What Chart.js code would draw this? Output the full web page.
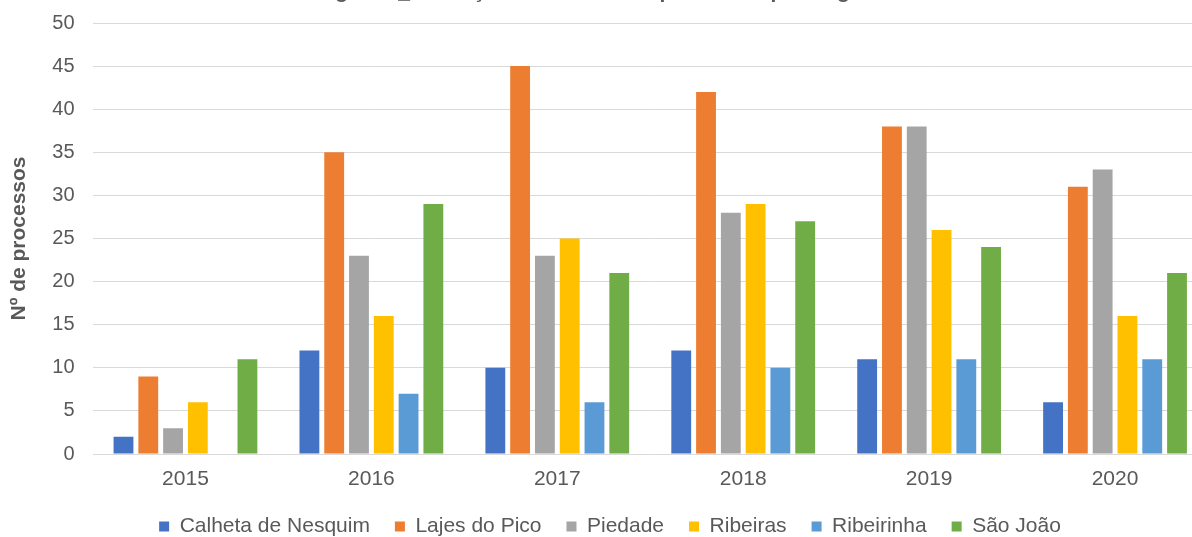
<!DOCTYPE html>
<html>
<head>
<meta charset="utf-8">
<script src="https://cdn.jsdelivr.net/npm/chart.js@4/dist/chart.umd.min.js"></script>
<style>
  html, body { margin: 0; padding: 0; background: #ffffff; overflow: hidden; }
  #wrap { width: 1192px; height: 537px; overflow: hidden; }
  canvas { display: block; }
</style>
</head>
<body>
<div id="wrap"><canvas id="chart" width="1220" height="537"></canvas></div>
<script>
// Número de processos por freguesia, 2015–2020
const years = ['2015', '2016', '2017', '2018', '2019', '2020'];
const calhetaDeNesquim = [2, 12, 10, 12, 11, 6];
const lajesDoPico      = [9, 35, 45, 42, 38, 31];
const piedade          = [3, 23, 23, 28, 38, 33];
const ribeiras         = [6, 16, 25, 29, 26, 16];
const ribeirinha       = [null, 7, 6, 10, 11, 11];
const saoJoao          = [11, 29, 21, 27, 24, 21];

const series = [
  { label: 'Calheta de Nesquim', data: calhetaDeNesquim, color: '#4472C4' },
  { label: 'Lajes do Pico',      data: lajesDoPico,      color: '#ED7D31' },
  { label: 'Piedade',            data: piedade,          color: '#A5A5A5' },
  { label: 'Ribeiras',           data: ribeiras,         color: '#FFC000' },
  { label: 'Ribeirinha',         data: ribeirinha,       color: '#5B9BD5' },
  { label: 'São João',           data: saoJoao,          color: '#70AD47' }
];

const FONT = "'Liberation Sans', Arial, sans-serif";
const TEXT = '#595959';

new Chart(document.getElementById('chart'), {
  type: 'bar',
  data: {
    labels: years,
    datasets: series.map(s => ({
      label: s.label,
      data: s.data,
      backgroundColor: s.color,
      borderWidth: 0,
      categoryPercentage: 0.8,
      barPercentage: 0.8
    }))
  },
  options: {
    responsive: false,
    animation: false,
    devicePixelRatio: 1,
    layout: { padding: { left: 12, right: 12, top: 0, bottom: -10 } },
    plugins: {
      title: {
        display: true,
        text: 'Figura 6_ Evolução do número de processos por freguesia',
        color: TEXT,
        font: { family: FONT, size: 21, weight: 'bold' },
        padding: { top: -20.5, bottom: 18.3 }
      },
      legend: {
        position: 'bottom',
        labels: {
          color: TEXT,
          font: { family: FONT, size: 21 },
          boxWidth: 10,
          boxHeight: 10,
          padding: 25
        }
      },
      tooltip: { enabled: false }
    },
    scales: {
      x: {
        grid: { display: false, drawTicks: false },
        border: { display: false },
        ticks: { color: TEXT, font: { family: FONT, size: 21 }, padding: 13 },
        afterFit: (scale) => { scale.height = 37; }
      },
      y: {
        min: 0,
        max: 50,
        ticks: { stepSize: 5, color: TEXT, font: { family: FONT, size: 20 }, padding: 18 },
        grid: { color: '#D9D9D9', lineWidth: 1, drawTicks: false },
        border: { display: false },
        title: {
          display: true,
          text: 'Nº de processos',
          color: TEXT,
          font: { family: FONT, size: 21, weight: 'bold' },
          padding: { top: -5, bottom: 0 }
        },
        afterFit: (scale) => {
          scale.width = 80.5;
          scale.paddingTop = 0;
          scale.paddingBottom = 0;
        }
      }
    }
  }
});
</script>
</body>
</html>
